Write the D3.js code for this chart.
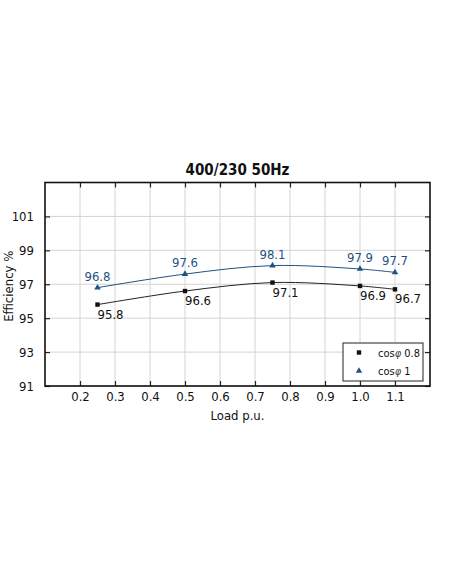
<!DOCTYPE html>
<html>
<head>
<meta charset="utf-8">
<script src="https://cdn.jsdelivr.net/npm/d3@7"></script>
<style>
  body { margin: 0; background: #fff; }
  text { font-family: "Liberation Sans Narrow", "DejaVu Sans Condensed", "Roboto", sans-serif; }
</style>
</head>
<body>
<script>
var width = 452, height = 584;

// data
var loads = [0.25, 0.5, 0.75, 1.0, 1.1];
var eff08 = [95.8, 96.6, 97.1, 96.9, 96.7];
var eff10 = [96.8, 97.6, 98.1, 97.9, 97.7];
var xTicks = [0.2, 0.3, 0.4, 0.5, 0.6, 0.7, 0.8, 0.9, 1.0, 1.1];
var yTicks = [91, 93, 95, 97, 99, 101];
var seriesNames = ["0.8", "1"];

var blue = "#1f5283";

var margin = {left: 45, top: 182.5, right: 22, bottom: 198};
var pw = width - margin.left - margin.right,
  ph = height - margin.top - margin.bottom;

var svg = d3.select("body").append("svg")
  .attr("width", width)
  .attr("height", height);

var x = d3.scaleLinear().domain([0.1, 1.2]).range([0, pw]);
var y = d3.scaleLinear().domain([91, 103]).range([ph, 0]);

var g = svg.append("g")
  .attr("transform", "translate(" + margin.left + "," + margin.top + ")");

// grid
g.selectAll(".gx").data(xTicks).enter().append("line")
  .attr("x1", function(d) { return x(d); })
  .attr("x2", function(d) { return x(d); })
  .attr("y1", 0).attr("y2", ph)
  .attr("stroke", "#d4d4d4").attr("stroke-width", 1);
g.selectAll(".gy").data(yTicks).enter().append("line")
  .attr("y1", function(d) { return y(d); })
  .attr("y2", function(d) { return y(d); })
  .attr("x1", 0).attr("x2", pw)
  .attr("stroke", "#d4d4d4").attr("stroke-width", 1);

// axes, ticks pointing inward
var fmtX = function(d) { return d.toFixed(1); };
var axBottom = g.append("g").attr("transform", "translate(0," + ph + ")")
  .call(d3.axisBottom(x).tickValues(xTicks).tickFormat(fmtX).tickSizeInner(-5).tickSizeOuter(0).tickPadding(6));
var axTop = g.append("g")
  .call(d3.axisTop(x).tickValues(xTicks).tickFormat("").tickSizeInner(-5).tickSizeOuter(0));
var axLeft = g.append("g")
  .call(d3.axisLeft(y).tickValues(yTicks).tickSizeInner(-5).tickSizeOuter(0).tickPadding(11));
var axRight = g.append("g").attr("transform", "translate(" + pw + ",0)")
  .call(d3.axisRight(y).tickValues(yTicks).tickFormat("").tickSizeInner(-5).tickSizeOuter(0));

[axBottom, axTop, axLeft, axRight].forEach(function(a) {
  a.select(".domain").remove();
  a.selectAll("line").attr("stroke", "#222").attr("stroke-width", 1.2);
  a.selectAll("text").attr("font-size", 13).attr("fill", "#111");
});

g.append("rect")
  .attr("width", pw).attr("height", ph)
  .attr("fill", "none").attr("stroke", "#111").attr("stroke-width", 1.6);

// lines
var line = d3.line()
  .x(function(d, i) { return x(loads[i]); })
  .y(function(d) { return y(d); })
  .curve(d3.curveCatmullRom.alpha(0.5));

g.append("path").datum(eff08)
  .attr("d", line).attr("fill", "none").attr("stroke", "#222").attr("stroke-width", 1);
g.append("path").datum(eff10)
  .attr("d", line).attr("fill", "none").attr("stroke", blue).attr("stroke-width", 1);

var tri = d3.symbol().type(d3.symbolTriangle).size(18);

g.selectAll(".sq").data(eff08).enter().append("rect")
  .attr("x", function(d, i) { return x(loads[i]) - 2.2; })
  .attr("y", function(d) { return y(d) - 2.2; })
  .attr("width", 4.4).attr("height", 4.4)
  .attr("fill", "#111");
g.selectAll(".tr").data(eff10).enter().append("path")
  .attr("d", tri)
  .attr("transform", function(d, i) { return "translate(" + x(loads[i]) + "," + y(d) + ")"; })
  .attr("fill", blue);

// value labels
g.selectAll(".l08").data(eff08).enter().append("text")
  .attr("x", function(d, i) { return x(loads[i]); })
  .attr("y", function(d) { return y(d) + 14; })
  .attr("font-size", 13).attr("fill", "#111")
  .text(function(d) { return d.toFixed(1); });
g.selectAll(".l10").data(eff10).enter().append("text")
  .attr("x", function(d, i) { return x(loads[i]); })
  .attr("y", function(d) { return y(d) - 7; })
  .attr("text-anchor", "middle")
  .attr("font-size", 13).attr("fill", blue)
  .text(function(d) { return d.toFixed(1); });

// legend
var lg = svg.append("g").attr("transform", "translate(343,343)");
lg.append("rect").attr("width", 80).attr("height", 38)
  .attr("fill", "#fff").attr("stroke", "#222").attr("stroke-width", 1);
lg.append("rect").attr("x", 13.8).attr("y", 7.3).attr("width", 4.4).attr("height", 4.4).attr("fill", "#111");
lg.append("path").attr("d", tri).attr("transform", "translate(16,28)").attr("fill", blue);
seriesNames.forEach(function(s, i) {
  var t = lg.append("text").attr("x", 35).attr("y", 13.5 + i * 18)
    .attr("font-size", 11).attr("fill", "#111");
  t.append("tspan").text("cos");
  t.append("tspan").attr("font-style", "italic").attr("fill", "#444").text("\u03c6");
  t.append("tspan").text(" " + s);
});

// titles
svg.append("text")
  .attr("x", margin.left + pw / 2).attr("y", 175)
  .attr("text-anchor", "middle")
  .attr("font-size", 15).attr("font-weight", "bold").attr("fill", "#111")
  .text("400/230 50Hz");
svg.append("text")
  .attr("x", margin.left + pw / 2).attr("y", 420)
  .attr("text-anchor", "middle")
  .attr("font-size", 13).attr("fill", "#111")
  .text("Load p.u.");
svg.append("text")
  .attr("transform", "translate(13," + (margin.top + ph / 2 + 2) + ") rotate(-90)")
  .attr("text-anchor", "middle")
  .attr("font-size", 13).attr("fill", "#111")
  .text("Efficiency %");
</script>
</body>
</html>
